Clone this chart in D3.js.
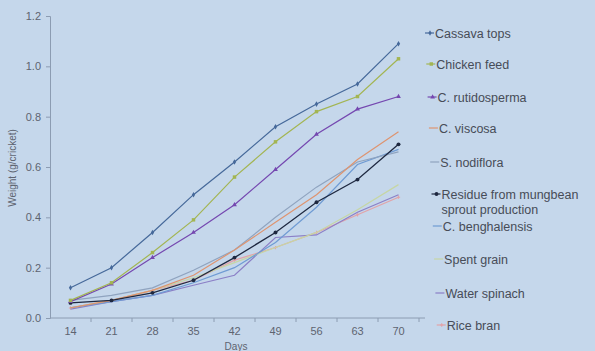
<!DOCTYPE html>
<html><head><meta charset="utf-8">
<script src="https://cdn.jsdelivr.net/npm/d3@7/dist/d3.min.js"></script>
<style>html,body{margin:0;padding:0;background:#C5D7EB;}svg{display:block;font-family:"Liberation Sans",Arial,sans-serif;}</style>
</head><body>
<svg id="c" width="595" height="351"></svg>
<script>
const days = [14, 21, 28, 35, 42, 49, 56, 63, 70];
const yTicks = [0.0, 0.2, 0.4, 0.6, 0.8, 1.0, 1.2];
const seriesNames = ["Cassava tops", "Chicken feed", "C. rutidosperma", "C. viscosa", "S. nodiflora",
  "Residue from mungbean sprout production", "C. benghalensis", "Spent grain", "Water spinach", "Rice bran"];
const cassava      = [0.12, 0.20, 0.34, 0.49, 0.62, 0.76, 0.85, 0.93, 1.09];
const chickenFeed  = [0.07, 0.14, 0.26, 0.39, 0.56, 0.70, 0.82, 0.88, 1.03];
const rutidosperma = [0.065, 0.135, 0.24, 0.34, 0.45, 0.59, 0.73, 0.83, 0.88];
const viscosa      = [0.04, 0.07, 0.11, 0.17, 0.27, 0.38, 0.49, 0.63, 0.74];
const nodiflora    = [0.07, 0.09, 0.12, 0.19, 0.27, 0.40, 0.52, 0.62, 0.66];
const residue      = [0.06, 0.07, 0.10, 0.15, 0.24, 0.34, 0.46, 0.55, 0.69];
const benghalensis = [0.04, 0.065, 0.09, 0.14, 0.20, 0.30, 0.44, 0.61, 0.67];
const spentGrain   = [0.04, 0.07, 0.11, 0.16, 0.22, 0.28, 0.34, 0.43, 0.53];
const waterSpinach = [0.035, 0.065, 0.09, 0.13, 0.17, 0.32, 0.33, 0.42, 0.49];
const riceBran     = [0.04, 0.07, 0.11, 0.15, 0.23, 0.28, 0.34, 0.41, 0.48];
const values = [cassava, chickenFeed, rutidosperma, viscosa, nodiflora, residue, benghalensis, spentGrain, waterSpinach, riceBran];
const colors = ["#46699A", "#A3B552", "#7548B0", "#DE9470", "#8FA3BF", "#1E2840", "#6F9BD3", "#C6D6A4", "#8B7FC6", "#E2A3A8"];
const markers = ["diamond", "square", "triangle", null, null, "circle", null, null, null, "cross"];

const svg = d3.select("#c");
const x = d3.scaleBand().domain(days).range([50, 419]).padding(0);
const y = d3.scaleLinear().domain([0, 1.2]).range([318, 16]);
const cx = d => x(d) + x.bandwidth() / 2;
const axisCol = "#8C9CB2", textCol = "#5E6470";

// Y axis
const ya = svg.append("g").attr("transform", "translate(50,0)")
  .call(d3.axisLeft(y).tickValues(yTicks).tickFormat(d3.format(".1f")).tickSize(4).tickPadding(5));
ya.select(".domain").attr("stroke", axisCol);
ya.selectAll(".tick line").attr("stroke", axisCol);
ya.selectAll(".tick text").attr("fill", textCol).style("font-size", "11px").style("font-family", "Liberation Sans, Arial");

// X axis
const xa = svg.append("g").attr("transform", "translate(0,318)")
  .call(d3.axisBottom(x).tickSize(0).tickPadding(9));
xa.select(".domain").remove();
xa.selectAll(".tick text").attr("fill", textCol).style("font-size", "11px").style("font-family", "Liberation Sans, Arial");
svg.append("line").attr("x1", 50).attr("x2", 425).attr("y1", 318).attr("y2", 318).attr("stroke", axisCol);
svg.append("g").selectAll("line").data(days).join("line")
  .attr("x1", (d, i) => x(days[0]) + x.step() * (i + 1)).attr("x2", (d, i) => x(days[0]) + x.step() * (i + 1))
  .attr("y1", 318).attr("y2", 322).attr("stroke", axisCol);

svg.append("text").attr("x", 236).attr("y", 350).attr("text-anchor", "middle")
  .attr("fill", textCol).style("font-size", "10px").text("Days");
svg.append("text").attr("transform", "translate(16,168) rotate(-90)").attr("text-anchor", "middle")
  .attr("fill", textCol).style("font-size", "10px").text("Weight (g/cricket)");

// Lines
const line = d3.line().x((d, i) => cx(days[i])).y(d => y(d));
const drawOrder = [9, 8, 7, 6, 4, 3, 5, 2, 1, 0];
drawOrder.forEach(k => {
  svg.append("path").datum(values[k]).attr("d", line).attr("fill", "none")
    .attr("stroke", colors[k]).attr("stroke-width", k === 5 ? 1.3 : 1.2);
  if (markers[k]) drawMarkers(svg, values[k].map((v, i) => [cx(days[i]), y(v)]), markers[k], colors[k]);
});

function drawMarkers(g, pts, type, col) {
  const sym = {diamond: d3.symbolDiamond, square: d3.symbolSquare, triangle: d3.symbolTriangle, circle: d3.symbolCircle, cross: d3.symbolCross}[type];
  const size = {diamond: 9, square: 12, triangle: 10, circle: 12, cross: 6}[type];
  g.append("g").selectAll("path").data(pts).join("path")
    .attr("transform", d => `translate(${d[0]},${d[1]})`)
    .attr("d", d3.symbol().type(sym).size(size)).attr("fill", col);
}

// Legend
const legY = [33, 64, 97, 128, 162, 194, 226, 259, 293, 325];
const lg = svg.append("g");
seriesNames.forEach((name, i) => {
  const tx = 435 + i * 1.3;
  const yy = legY[i];
  lg.append("line").attr("x1", tx - 10).attr("x2", tx - 1).attr("y1", yy).attr("y2", yy)
    .attr("stroke", colors[i]).attr("stroke-width", 1.2);
  if (markers[i]) drawMarkers(lg, [[tx - 5, yy]], markers[i], colors[i]);
  const t = lg.append("text").attr("x", tx).attr("y", yy + 4.5).attr("fill", "#474C57").style("font-size", "12.5px");
  if (i === 5) {
    t.text("Residue from mungbean");
    lg.append("text").attr("x", tx).attr("y", yy + 19.5).attr("fill", "#474C57").style("font-size", "12.5px").text("sprout production");
  } else t.text(name);
});
</script>
</body></html>
